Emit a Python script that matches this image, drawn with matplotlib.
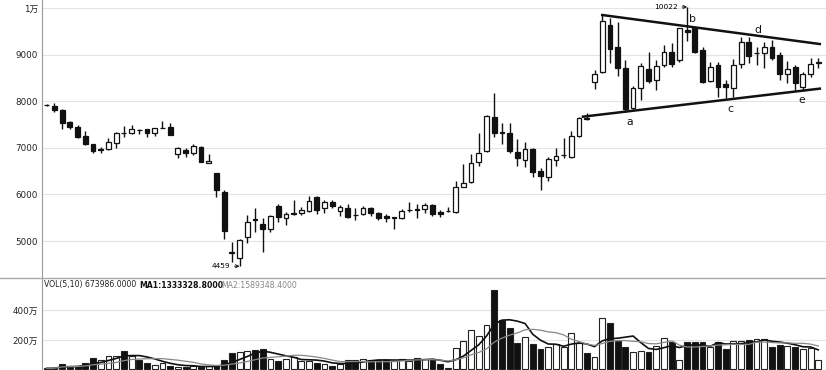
import matplotlib
matplotlib.use('Agg')
import matplotlib.pyplot as plt
from matplotlib.lines import Line2D
import numpy as np
import pandas as pd

plt.rcParams['font.family'] = ['DejaVu Sans', 'Noto Sans CJK SC']

# ---------------- data ----------------
opens = [7920, 7903, 7811, 7547, 7440, 7253, 7082, 6960, 6975, 7097,
         7320, 7311, 7385, 7403, 7311, 7425, 7453, 6867, 6953, 6895,
         7024, 6667, 6453, 6058, 4770, 4642, 5092, 5472, 5358, 5250,
         5751, 5494, 5590, 5594, 5651, 5937, 5701, 5844, 5644, 5715,
         5562, 5580, 5701, 5594, 5537, 5500, 5487, 5665, 5694, 5680,
         5766, 5630, 5640, 5630, 6166, 6273, 6703, 6931, 7668, 7339,
         7325, 6917, 6738, 6967, 6509, 6381, 6738, 6840, 6795, 7253,
         7647, 8405, 8620, 9636, 9170, 8706, 7847, 8277, 8691, 8455,
         8777, 9063, 8884, 9528, 9564, 9099, 8441, 8777, 8362, 8277,
         8799, 9278, 9040, 9042, 9170, 8992, 8584, 8727, 8312, 8584,
         8827]
highs = [7950, 7967, 7830, 7575, 7489, 7354, 7090, 7024, 7217, 7345,
         7474, 7489, 7403, 7403, 7418, 7582, 7525, 7024, 6989, 7075,
         7045, 6860, 6453, 6094, 4985, 5043, 5558, 5702, 5487, 5560,
         5794, 5630, 5880, 5737, 5973, 5966, 5880, 5880, 5773, 5794,
         5701, 5758, 5737, 5630, 5580, 5522, 5687, 5830, 5794, 5808,
         5794, 5665, 5723, 6295, 6652, 6867, 7311, 7705, 8183, 7525,
         7525, 7182, 7117, 6989, 6560, 6810, 7003, 7203, 7368, 7668,
         7740, 8670, 9850, 9779, 9707, 8884, 8327, 8827, 9063, 8884,
         9206, 9256, 9564, 10022, 9585, 9170, 8849, 8849, 8455, 8899,
         9385, 9385, 9170, 9278, 9313, 9063, 8863, 8777, 8634, 8920,
         8920]
lows = [7900, 7768, 7400, 7397, 7217, 7050, 6882, 6882, 6950, 6989,
        7238, 7290, 7290, 7238, 7253, 7418, 7275, 6775, 6810, 6845,
        6689, 6667, 5951, 5036, 4556, 4459, 4950, 5200, 4770, 5200,
        5415, 5343, 5558, 5558, 5630, 5572, 5608, 5701, 5537, 5487,
        5451, 5558, 5537, 5451, 5415, 5257, 5465, 5630, 5487, 5594,
        5537, 5522, 5630, 5608, 6150, 6252, 6610, 6917, 7239, 7074,
        6881, 6617, 6595, 6366, 6094, 6288, 6610, 6788, 6774, 7225,
        7590, 8255, 8600, 8813, 8541, 7776, 7811, 8026, 8384, 8241,
        8741, 8741, 8834, 9299, 9030, 8400, 8420, 8098, 8062, 8098,
        8706, 8813, 8777, 8706, 8884, 8455, 8384, 8241, 8227, 8527,
        8706]
closes = [7925, 7811, 7526, 7440, 7238, 7075, 6931, 6967, 7118, 7311,
          7311, 7397, 7378, 7311, 7418, 7432, 7275, 6989, 6882, 7039,
          6689, 6723, 6094, 5215, 4736, 5021, 5414, 5460, 5251, 5537,
          5508, 5580, 5600, 5665, 5866, 5665, 5844, 5751, 5737, 5508,
          5556, 5701, 5594, 5487, 5494, 5505, 5651, 5672, 5658, 5773,
          5580, 5580, 5645, 6166, 6238, 6681, 6896, 7690, 7325, 7311,
          6931, 6774, 6967, 6488, 6402, 6760, 6831, 6845, 7260, 7632,
          7611, 8584, 9729, 9113, 8706, 7826, 8291, 8756, 8434, 8763,
          9063, 8792, 9564, 9493, 9063, 8420, 8741, 8298, 8298, 8777,
          9278, 8970, 9045, 9170, 8920, 8584, 8691, 8384, 8584, 8799,
          8830]
# volume in 万 (10^4)
volumes = [8, 10, 35, 24, 26, 42, 80, 64, 94, 94,
           128, 92, 64, 46, 30, 46, 24, 15, 19, 24,
           19, 24, 24, 64, 110, 116, 128, 132, 137, 69,
           57, 69, 83, 60, 60, 46, 35, 24, 37, 62,
           64, 69, 64, 64, 64, 60, 69, 60, 76, 69,
           74, 35, 8, 143, 193, 266, 229, 302, 539, 336,
           279, 182, 222, 173, 137, 150, 173, 155, 245, 177,
           114, 83, 352, 318, 193, 150, 121, 128, 121, 159,
           211, 189, 64, 189, 189, 189, 155, 189, 141, 195,
           193, 200, 207, 207, 150, 166, 161, 155, 139, 143,
           67.4]

price_ticks = [5000, 6000, 7000, 8000, 9000, 10000]
price_tick_labels = ['5000', '6000', '7000', '8000', '9000', '1万']
vol_ticks = [200, 400]
vol_tick_labels = ['200万', '400万']
wave_labels = ['a', 'b', 'c', 'd', 'e']

vol_header = 'VOL(5,10) 673986.0000'
ma1_header = 'MA1:1333328.8000'
ma2_header = 'MA2:1589348.4000'

# ---------------- figure ----------------
W, H = 826, 370
fig = plt.figure(figsize=(W / 100, H / 100), dpi=100)
ax = fig.add_axes([42 / W, 92 / H, 784 / W, 278 / H])
ax2 = fig.add_axes([42 / W, 0, 784 / W, 92 / H], sharex=ax)

n = len(opens)
idx = np.arange(n)
o = np.array(opens, float); c = np.array(closes, float)
hi = np.array(highs, float); lo = np.array(lows, float)
v = np.array(volumes, float)
up = c >= o

ax.vlines(idx, lo, hi, color='#111111', lw=1.0, zorder=2)
body_bottom = np.minimum(o, c)
body_h = np.maximum(np.abs(c - o), 4)
ax.bar(idx, body_h, bottom=body_bottom, width=0.62,
       color=np.where(up, 'white', '#111111'), edgecolor='#111111',
       linewidth=0.9, zorder=3)

ax.set_xlim(-0.61, 101.0)
ax.set_ylim(4206, 10172)
ax.set_yticks(price_ticks)
ax.set_yticklabels(price_tick_labels)
ax.tick_params(axis='y', length=0, labelsize=6.3, pad=3, colors='#222222')
ax.tick_params(axis='x', length=0, labelbottom=False)
ax.grid(axis='y', color='#e4e4e4', lw=0.8)
ax.set_axisbelow(True)
for s in ['top', 'right', 'bottom']:
    ax.spines[s].set_visible(False)
ax.spines['left'].set_color('#999999')

# triangle lines from highs/lows
i_u0, i_u1 = 72, 84
su = (hi[i_u1] - hi[i_u0]) / (i_u1 - i_u0)
xu = np.array([i_u0, 100.2])
ax.plot(xu, hi[i_u0] + su * (xu - i_u0), color='#111111', lw=1.8, zorder=4)
i_l0, i_l1 = 75, 98
sl = (lo[i_l1] - lo[i_l0]) / (i_l1 - i_l0)
xl = np.array([69.5, 100.2])
ax.plot(xl, lo[i_l0] + sl * (xl - i_l0), color='#111111', lw=1.8, zorder=4)

label_pos = [(75.6, 7554), (83.7, 9758), (88.6, 7833), (92.2, 9528), (97.9, 8026)]
for t, (px, py) in zip(wave_labels, label_pos):
    ax.text(px, py, t, fontsize=7.8, ha='center', va='center', color='#111111')

imax = int(np.argmax(hi)); imin = int(np.argmin(lo))
ax.annotate(f'{int(hi[imax])}', xy=(imax, hi[imax]), xytext=(imax - 1.2, hi[imax]),
            fontsize=5.4, ha='right', va='center',
            arrowprops=dict(arrowstyle='->', lw=0.7, color='#111111', shrinkA=1, shrinkB=0))
ax.annotate(f'{int(lo[imin])}', xy=(imin, lo[imin]), xytext=(imin - 1.2, lo[imin]),
            fontsize=5.4, ha='right', va='center',
            arrowprops=dict(arrowstyle='->', lw=0.7, color='#111111', shrinkA=1, shrinkB=0))

# volume panel
ax2.bar(idx, v, width=0.76, color=np.where(up, 'white', '#111111'),
        edgecolor='#222222', linewidth=0.8, zorder=3)
ma1 = pd.Series(v).rolling(5, min_periods=1).mean()
ma2 = pd.Series(v).rolling(10, min_periods=1).mean()
ax2.plot(idx, ma1, color='#111111', lw=1.2, zorder=4)
ax2.plot(idx, ma2, color='#888888', lw=0.9, zorder=4)
ax2.set_ylim(-3.4, 620)
ax2.set_yticks(vol_ticks)
ax2.set_yticklabels(vol_tick_labels)
ax2.tick_params(axis='y', length=0, labelsize=6.3, pad=3, colors='#222222')
ax2.tick_params(axis='x', length=0, labelbottom=False)
ax2.grid(axis='y', color='#e4e4e4', lw=0.8)
ax2.set_axisbelow(True)
for s in ['top', 'right', 'bottom']:
    ax2.spines[s].set_visible(False)
ax2.spines['left'].set_color('#999999')

fig.add_artist(Line2D([0, 1], [92 / H, 92 / H], color='#aaaaaa', lw=1.0))

ty = 1 - 285 / H
fig.text(44 / W, ty, vol_header, fontsize=5.6, va='center', color='#222222')
fig.text(139 / W, ty, ma1_header, fontsize=5.6, va='center', color='#111111', fontweight='bold')
fig.text(221 / W, ty, ma2_header, fontsize=5.6, va='center', color='#888888')

fig.savefig('out.png', dpi=100, facecolor='white')
